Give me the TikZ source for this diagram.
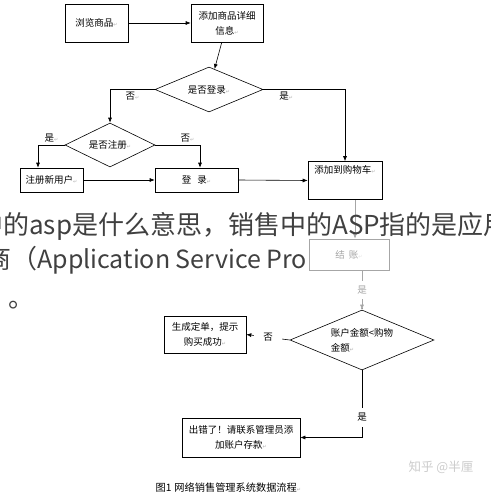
\documentclass[tikz,border=0pt]{standalone}
\usepackage{fontspec}
\setmainfont{Noto Sans CJK SC}
\newfontfamily\symfont{DejaVu Sans}
\usetikzlibrary{shapes.geometric}
\usetikzlibrary{arrows.meta}
\newcommand{\pmk}{{\symfont\fontsize{5}{5}\selectfont\color{gray!60}↵}}

\tikzset{
  box/.style={draw, rectangle, inner sep=2pt, align=center, font=\fontsize{9.5}{15}\selectfont},
  choice/.style={draw, diamond, inner sep=0pt, aspect=2.4, align=center, font=\fontsize{9.5}{15}\selectfont},
  lbl/.style={font=\fontsize{9.5}{10}\selectfont, inner sep=2pt},
  cutlbl/.style={lbl, fill=white, inner xsep=6pt, inner ysep=5pt},
  overtext/.style={anchor=base west, inner sep=0pt, font=\fontsize{26}{30}\selectfont, text=black!75},
}

\begin{document}
\begin{tikzpicture}[x=1pt, y=-1pt, >={Latex[length=5pt,width=4pt]}, line width=0.6pt]
		\useasboundingbox (0,0) rectangle (490,495) ;
		\fill[white] (0,0) rectangle (490,495) ;
\par
\node[box, minimum width=63pt, minimum height=38pt] (browse) at (96.5,23) {浏览商品\pmk} ;
		\node[box, minimum width=72pt, minimum height=38pt] (detail) at (227,23) {添加商品详细\\信息\pmk} ;
		\node[choice, minimum width=108pt, minimum height=45pt] (login) at (209,89.5) {是否登录\pmk} ;
		\node[choice, minimum width=90pt, minimum height=44pt] (reg) at (110,145) {是否注册\pmk} ;
		\node[box, minimum width=63pt, minimum height=24pt] (newuser) at (51.5,180) {注册新用户\pmk} ;
		\node[box, minimum width=83pt, minimum height=24pt] (signin) at (196.5,180) {登\hspace{6pt}录\pmk} ;
		\node[box, minimum width=74pt, text height=8pt, text depth=22pt, inner sep=4pt] (cart) at (345,180.5) {添加到购物车\pmk} ;
		\node[box, minimum width=80pt, minimum height=31pt] (checkout) at (349,254.5) {结\hspace{4pt}账\pmk} ;
		\node[choice, minimum width=144pt, minimum height=60pt, align=left] (balance) at (362,340) {账户金额<购物\\金额\pmk} ;
		\node[box, minimum width=82pt, minimum height=37pt] (success) at (205,334.5) {生成定单，提示\\购买成功\pmk} ;
		\node[box, minimum width=118pt, minimum height=39pt] (error) at (241,437.5) {出错了！请联系管理员添\\加账户存款\pmk} ;
\par
\draw[->] (browse) -- (detail) ;
		\draw[->] (detail) -- (login) ;
		\draw[->] (login.west) -| (reg.north) node[lbl, pos=0.25, below] {否\pmk} ;
		\draw[->] (login.east) -| (cart.north) node[lbl, pos=0.14, below] {是\pmk} ;
		\draw[->] (reg.west) -| ([xshift=-13.5pt]newuser.north) node[lbl, pos=0.25, above] {是\pmk} ;
		\draw[->] (reg.east) -| ([xshift=3.5pt]signin.north) node[lbl, pos=0.36, above] {否\pmk} ;
		\draw[->] (newuser.east) -- (signin.west) ;
		\draw[->] (signin.east) -- (cart.west) ;
		\draw[->] ([xshift=10pt]cart.south) coordinate (cartout) -- (cartout |- checkout.north) ;
		\draw[->] ([xshift=13pt]checkout.south) -- (balance.north) node[cutlbl, midway] {是} ;
		\draw[->] (balance.west) -- (success.east) node[cutlbl, midway, inner xsep=9pt] {否} ;
		\draw[->] (balance.south) |- (error.east) node[cutlbl, pos=0.35] {是} ;
\par
\node[anchor=west, font=\fontsize{10.2}{11}\selectfont] (caption) at (152,488) {图1\hspace{3pt}网络销售管理系统数据流程\pmk} ;
		\node[font=\fontsize{12.5}{13}\selectfont, text=gray!40] (mark) at (441,467) {知乎 @半厘} ;
\par
\fill[white, fill opacity=0.65] (0,200) rectangle (490,308) ;
		\node[overtext] (over1) at (-23,234) {中的asp是什么意思，销售中的ASP指的是应用} ;
		\node[overtext] (over2) at (-15,268) {商（{\fontsize{25}{30}\selectfont Application Service Pro}} ;
		\node[overtext] (over3) at (8,307) {。} ;
	\end{tikzpicture}
\end{document}
